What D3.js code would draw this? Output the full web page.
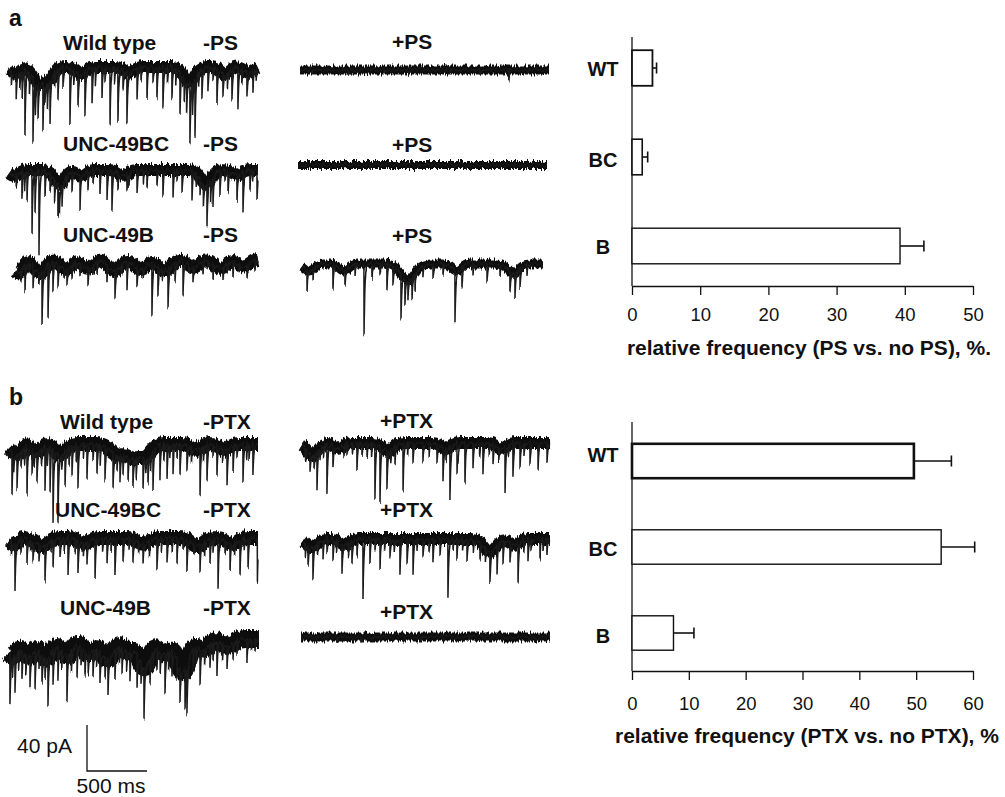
<!DOCTYPE html>
<html>
<head>
<meta charset="utf-8">
<script src="https://cdn.jsdelivr.net/npm/d3@7"></script>
<style>
  body { margin: 0; background: #fff; }
  text { font-family: "Liberation Sans", Arial, sans-serif; fill: #111; }
</style>
</head>
<body>
<script>
// bar chart data
const categories = ["WT", "BC", "B"]
const psMean = [3.0, 1.5, 39.3]
const psErr = [0.6, 0.8, 3.5]
const ptxMean = [49.6, 54.4, 7.3]
const ptxErr = [6.6, 5.9, 3.6]
const psTicks = [0, 10, 20, 30, 40, 50]
const ptxTicks = [0, 10, 20, 30, 40, 50, 60]

// trace events: [time ms, amplitude pA, width ms (optional; >= 25 means a slow wave)]
const psWtMinus = [[133,57],[200,58],[242,30],[283,40],[342,38],[408,27],[508,50],[575,30],[633,38],[692,32],[775,27],[842,50],[908,47],[983,45],[1067,27],[1150,27],[1233,27],[1283,36],[1358,27],[1425,37],[1508,53],[1550,53],[1608,27],[1658,21],[1733,30],[1783,21],[1858,27],[1908,37],[1983,21],[2033,18],
  [20,12],[60,22],[90,15],[110,24],[170,20],[220,26],[300,15],[320,24],[380,12],[450,18],[540,14],[720,16],[800,12],[880,14],[950,18],[1100,12],[1200,15],[1320,14],[1390,16],[1460,20],[1480,26],[1530,28],[1580,15],[1700,12],[1820,14],[1940,12],[2060,10],
  [60,6,40],[250,14,50],[340,8,40],[600,6,40],[1000,5,40],[1500,14,45],[1800,6,40],[2000,5,40]]
const psWtPlus = [[1740,9],[100,3],[400,4],[700,3],[900,4],[1250,3],[1500,4],[1900,3]]
const psBcMinus = [[108,23],[150,26],[192,54],[217,37],[250,61],[300,23],[342,17],[408,29],[442,20],[525,17],[592,29],[658,15],[758,20],[817,26],[858,35],[908,15],[983,15],[1067,20],[1150,15],[1233,15],[1283,23],[1367,23],[1442,20],[1525,26],[1592,15],[1650,37],[1700,26],[1758,23],[1825,20],[1900,23],[1950,35],[2008,17],[2067,26],
  [60,10],[130,18],[250,12],[380,20],[420,22],[480,10],[700,12],[1000,10],[1120,12],[1400,10],[1560,12],[1620,22],[1680,20],[1800,10],[2030,10],
  [40,5,40],[420,12,45],[600,5,40],[950,5,40],[1640,12,45],[1900,4,40]]
const psBcPlus = [[200,3],[600,3],[1000,3],[1400,3],[1800,3]]
const psBMinus = [[75,22],[142,19],[217,45],[267,45],[308,26],[350,22],[425,14],[467,11],[533,11],[600,14],[675,11],[758,14],[825,25],[925,24],[1008,18],[1133,46],[1183,26],[1267,34],[1325,18],[1392,30],[1475,14],[1558,11],[1642,14],[1725,11],[1808,14],[1925,11],[1992,9],
  [40,9],[110,8],[190,10],[400,8],[500,7],[640,8],[880,9],[1060,8],[1220,9],[1440,8],[1600,7],[1760,8],[1860,7],
  [20,12,40],[200,12,50],[420,9,50],[600,8,50],[820,10,55],[1040,9,50],[1240,10,55],[1480,7,50],[1700,8,55],[1900,6,50]]
const psBPlus = [[42,18],[92,10],[258,22],[358,13],[442,10],[517,62],[583,13],[650,10],[708,22],[758,18],[825,40],[858,22],[883,16],[917,19],[942,14],[1008,10],[1092,13],[1175,10],[1275,46],[1333,18],[1425,10],[1542,16],[1650,10],[1733,18],[1775,22],[1817,18],[1875,10],
  [60,6,40],[350,6,40],[880,14,60],[1290,6,40],[1760,8,45]]

const ptxWtMinus = [[25,38],[67,30],[150,41],[192,21],[233,26],[300,38],[342,41],[367,64],[408,61],[467,30],[525,26],[575,38],[650,30],[733,26],[800,30],[867,32],[925,22],[992,20],[1033,24],[1117,26],[1158,24],[1200,35],[1258,30],[1317,30],[1367,26],[1425,26],[1483,23],[1592,41],[1650,32],[1733,26],[1817,32],[1867,23],[1950,32],[2033,26],
  [100,15],[270,14],[500,16],[620,12],[700,15],[760,18],[950,16],[1060,18],[1180,15],[1290,14],[1400,12],[1520,14],[1700,12],[1900,12],[2000,14],[40,12],[130,14],[210,12],[320,16],[440,12],[560,14],[900,14],[1140,12],[1340,12],[1620,14],[1780,12],[1980,12],
  [60,9,45],[230,7,40],[430,9,45],[900,9,55],[1030,11,55],[1140,10,50],[1560,5,40],[1800,5,40]]
const ptxWtPlus = [[67,16],[125,33],[208,43],[258,18],[375,10],[458,24],[542,13],[608,48],[650,50],[708,33],[775,16],[842,42],[925,18],[1008,16],[1125,18],[1175,30],[1233,46],[1292,27],[1358,36],[1425,22],[1508,27],[1592,18],[1692,39],[1758,30],[1817,22],[1900,18],[1967,24],[2042,16],
  [30,10],[180,12],[350,10],[500,12],[880,10],[1060,12],[1300,10],[1480,12],[1720,10],[1850,12],[100,12],[150,10],[420,10],[580,12],[740,10],[1200,10],[1560,10],[1640,12],
  [90,10,50],[300,5,40],[720,7,45],[1200,5,40],[1660,5,40]]
const ptxBcMinus = [[50,41],[150,23],[200,18],[300,32],[367,23],[425,18],[492,32],[575,27],[650,18],[717,36],[817,23],[883,32],[950,21],[1033,21],[1117,18],[1233,27],[1317,23],[1400,21],[1483,27],[1592,23],[1675,21],[1742,44],[1842,23],[1925,30],[1992,27],[2070,38],
  [100,12],[250,14],[350,10],[550,12],[780,12],[1000,10],[1170,14],[1270,12],[1450,10],[1630,12],[1800,12],[1960,10],[20,12],[180,10],[460,12],[620,10],[850,12],[1080,10],[1360,12],[1540,10],[1700,12],[1880,10],
  [40,5,40],[270,7,50],[620,5,45],[1120,5,45],[1570,7,50],[1860,5,45]]
const ptxBcPlus = [[42,17],[83,29],[167,17],[250,20],[325,26],[408,20],[450,14],[500,52],[558,20],[642,26],[725,17],[808,31],[867,23],[917,31],[1000,17],[1083,20],[1142,14],[1208,52],[1283,17],[1367,20],[1475,17],[1558,28],[1617,25],[1667,20],[1725,17],[1792,35],[1875,20],[1975,17],[2033,14],
  [120,10],[200,12],[600,10],[760,12],[950,10],[1050,12],[1250,10],[1420,12],[1900,10],[20,12],[280,10],[380,12],[680,10],[1330,10],[1520,12],[1840,10],[2000,10],
  [70,7,45],[350,5,40],[1560,11,50],[1760,5,40]]
const ptxBMinus = [[8,43],[50,34],[108,25],[175,28],[217,34],[275,25],[325,42],[367,32],[408,28],[483,40],[567,28],[633,22],[700,22],[758,28],[825,32],[883,26],[942,22],[1008,24],[1067,28],[1125,45],[1175,24],[1233,18],[1300,34],[1358,22],[1425,30],[1467,35],[1483,40],[1533,20],[1592,32],[1675,20],[1733,30],[1817,20],[1867,14],[1983,20],[2050,11],
  [30,18],[80,16],[140,18],[250,16],[300,18],[440,16],[520,18],[600,16],[660,18],[730,16],[800,18],[920,16],[980,18],[1100,18],[1200,16],[1260,18],[1330,16],[1400,18],[1560,16],[1630,14],[1700,16],[1780,14],[1900,12],[2020,10],
  [20,14,45],[160,14,50],[310,16,50],[480,14,50],[660,12,50],[820,17,55],[1000,11,50],[1130,24,45],[1290,13,50],[1450,28,50],[1620,9,50],[1820,6,50]]
const ptxBPlus = [[300,4],[500,5],[1000,3],[1400,4],[1900,3]]

const tracePanels = [
  { ev: psWtMinus,  x0: 9,   base: 67,  dur: 2075, band: 12 },
  { ev: psWtPlus,   x0: 300, base: 70,  dur: 2075, band: 9 },
  { ev: psBcMinus,  x0: 9,   base: 170, dur: 2075, band: 12 },
  { ev: psBcPlus,   x0: 298, base: 165, dur: 2075, band: 8 },
  { ev: psBMinus,   x0: 16,  base: 259, dur: 2017, band: 13 },
  { ev: psBPlus,    x0: 302, base: 264, dur: 2008, band: 9 },
  { ev: ptxWtMinus, x0: 9,   base: 444, dur: 2075, band: 14 },
  { ev: ptxWtPlus,  x0: 302, base: 443, dur: 2067, band: 12 },
  { ev: ptxBcMinus, x0: 9,   base: 538, dur: 2075, band: 14 },
  { ev: ptxBcPlus,  x0: 303, base: 539, dur: 2058, band: 12 },
  { ev: ptxBMinus,  x0: 9,   base: 639, dur: 2083, band: 18 },
  { ev: ptxBPlus,   x0: 301, base: 637, dur: 2075, band: 9 }
]

const traceLabels = [
  ["Wild type", 63, 50], ["-PS", 203, 50], ["+PS", 392, 49],
  ["UNC-49BC", 63, 151], ["-PS", 203, 151], ["+PS", 392, 152],
  ["UNC-49B", 63, 242], ["-PS", 203, 242], ["+PS", 392, 243],
  ["Wild type", 60, 429], ["-PTX", 203, 429], ["+PTX", 380, 428],
  ["UNC-49BC", 55, 517], ["-PTX", 203, 517], ["+PTX", 380, 517],
  ["UNC-49B", 60, 615], ["-PTX", 203, 615], ["+PTX", 380, 619]
]

let svg = d3.select("body").append("svg")
    .attr("width", 1005)
    .attr("height", 797)

// recording noise look: vertical-only jitter of the drawn trace
let filt = svg.append("defs").append("filter")
    .attr("id", "jitter")
    .attr("filterUnits", "userSpaceOnUse")
    .attr("x", 0).attr("y", 0).attr("width", 1005).attr("height", 797)
filt.append("feTurbulence")
    .attr("type", "fractalNoise")
    .attr("baseFrequency", "0.7 0.04")
    .attr("numOctaves", 2)
    .attr("seed", 3)
    .attr("result", "noise")
filt.append("feColorMatrix")
    .attr("in", "noise")
    .attr("type", "matrix")
    .attr("values", "0 0 0 0 0.5  0 1 0 0 0  0 0 1 0 0  0 0 0 0 1")
    .attr("result", "map")
filt.append("feDisplacementMap")
    .attr("in", "SourceGraphic")
    .attr("in2", "map")
    .attr("scale", 8)
    .attr("xChannelSelector", "R")
    .attr("yChannelSelector", "G")

// shared recording scales: 500 ms -> 60 px, 40 pA -> 46 px
let msScale = d3.scaleLinear().domain([0, 500]).range([0, 60])
let paScale = d3.scaleLinear().domain([0, 40]).range([0, 46])

let drawTrace = (p) => {
    let tx = d3.scaleLinear().domain([0, p.dur]).range([p.x0, p.x0 + msScale(p.dur)])
    let ty = d3.scaleLinear().domain([0, 40]).range([p.base, p.base + paScale(40)])
    let pts = []
    for (let t = 0; t <= p.dur; t++) {
        let fast = 0, slow = 0
        p.ev.forEach(e => {
            let w = e[2] || 7
            if (w >= 25) {
                let u = (t - e[0]) / w
                slow += e[1] * Math.exp(-0.5 * u * u)
            } else if (t >= e[0]) {
                fast += e[1] * Math.exp(-(t - e[0]) / w)
            }
        })
        pts.push({ t: t, slow: slow, all: slow + fast })
    }
    let slowLine = d3.line().x(d => tx(d.t)).y(d => ty(d.slow))(pts)
    let g = svg.append("g")
    g.append("path")
        .attr("d", slowLine)
        .attr("fill", "none")
        .attr("stroke", "#111")
        .attr("stroke-width", p.band * 0.55)
    let j = g.append("g").attr("filter", "url(#jitter)")
    j.append("path")
        .attr("d", slowLine)
        .attr("fill", "none")
        .attr("stroke", "#111")
        .attr("stroke-width", p.band)
    j.append("path")
        .attr("d", d3.line().x(d => tx(d.t)).y(d => ty(d.all))(pts))
        .attr("fill", "none")
        .attr("stroke", "#1a1a1a")
        .attr("stroke-width", 1.5)
}
tracePanels.forEach(drawTrace)

svg.selectAll("text.tlabel")
    .data(traceLabels)
    .enter().append("text")
    .attr("class", "tlabel")
    .attr("x", d => d[1])
    .attr("y", d => d[2])
    .attr("font-size", 21)
    .attr("font-weight", "bold")
    .text(d => d[0])

// panel letters
svg.append("text").attr("x", 9).attr("y", 26).attr("font-size", 23).attr("font-weight", "bold").text("a")
svg.append("text").attr("x", 9).attr("y", 405).attr("font-size", 23).attr("font-weight", "bold").text("b")

// scale bar
let sbx = 87, sby = 771
svg.append("path")
    .attr("d", `M${sbx},${sby - paScale(40)}V${sby}H${sbx + msScale(500)}`)
    .attr("fill", "none")
    .attr("stroke", "#111")
    .attr("stroke-width", 1.3)
svg.append("text").attr("x", 72).attr("y", 753).attr("text-anchor", "end").attr("font-size", 21).text("40 pA")
svg.append("text").attr("x", 111).attr("y", 793).attr("text-anchor", "middle").attr("font-size", 21).text("500 ms")

// bar charts
let drawBars = (opt) => {
    let x = d3.scaleLinear().domain(opt.domain).range([632, 973])
    let y = d3.scaleBand().domain(categories).range(opt.yRange).paddingInner(0.6).paddingOuter(0.3)
    let g = svg.append("g")
    g.append("line")
        .attr("x1", x(0)).attr("x2", x(0))
        .attr("y1", opt.axisTop).attr("y2", opt.axisY)
        .attr("stroke", "#111").attr("stroke-width", 1.3)
    let ax = g.append("g")
        .attr("transform", `translate(0,${opt.axisY})`)
        .call(d3.axisBottom(x).tickValues(opt.ticks).tickSizeInner(9).tickSizeOuter(0).tickPadding(opt.pad))
    ax.selectAll("path,line").attr("stroke", "#111").attr("stroke-width", 1.3)
    ax.selectAll("text").attr("font-size", 18.5).attr("font-family", "Liberation Sans, Arial, sans-serif").attr("fill", "#111")

    categories.forEach((c, i) => {
        let yc = y(c) + y.bandwidth() / 2
        g.append("rect")
            .attr("x", x(0)).attr("y", y(c))
            .attr("width", x(opt.mean[i]) - x(0)).attr("height", y.bandwidth())
            .attr("fill", "#fff").attr("stroke", "#111")
            .attr("stroke-width", opt.thick[i])
        g.append("line")
            .attr("x1", x(opt.mean[i])).attr("x2", x(opt.mean[i] + opt.err[i]))
            .attr("y1", yc).attr("y2", yc)
            .attr("stroke", "#111").attr("stroke-width", 1.6)
        g.append("line")
            .attr("x1", x(opt.mean[i] + opt.err[i])).attr("x2", x(opt.mean[i] + opt.err[i]))
            .attr("y1", yc - 5.5).attr("y2", yc + 5.5)
            .attr("stroke", "#111").attr("stroke-width", 1.6)
        g.append("text")
            .attr("x", 603).attr("y", yc + opt.labelDy[i])
            .attr("text-anchor", "middle")
            .attr("font-size", 20).attr("font-weight", "bold")
            .text(c)
    })
    g.append("text")
        .attr("x", opt.titleX).attr("y", opt.titleY)
        .attr("text-anchor", "middle")
        .attr("font-size", 21).attr("font-weight", "bold")
        .text(opt.title)
}

drawBars({
    domain: [0, 50], ticks: psTicks, mean: psMean, err: psErr,
    yRange: [23.5, 290.5], axisTop: 37, axisY: 286, pad: 13,
    thick: [1.8, 1.6, 1.4], labelDy: [8, 10, 8],
    title: "relative frequency (PS vs. no PS), %.", titleX: 809, titleY: 355
})
drawBars({
    domain: [0, 60], ticks: ptxTicks, mean: ptxMean, err: ptxErr,
    yRange: [418, 676], axisTop: 422, axisY: 671, pad: 17,
    thick: [2.6, 1.4, 1.4], labelDy: [1, 9, 10],
    title: "relative frequency (PTX vs. no PTX), %", titleX: 807, titleY: 743
})
</script>
</body>
</html>
